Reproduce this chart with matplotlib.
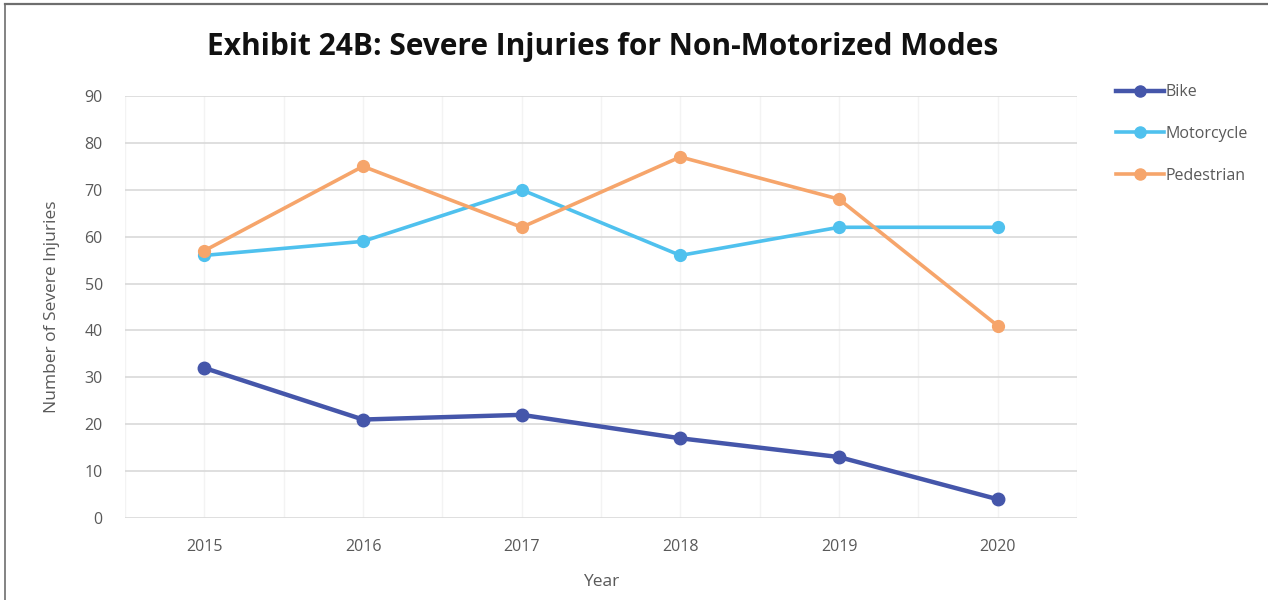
import numpy as np
import matplotlib
matplotlib.use("Agg")
from matplotlib import pyplot as plt
from matplotlib.lines import Line2D

# data
years = ["2015", "2016", "2017", "2018", "2019", "2020"]
bike = [32, 21, 22, 17, 13, 4]
motorcycle = [56, 59, 70, 56, 62, 62]
pedestrian = [57, 75, 62, 77, 68, 41]
yticks = [0, 10, 20, 30, 40, 50, 60, 70, 80, 90]

plt.rcParams["font.family"] = ["Open Sans", "DejaVu Sans"]

fig = plt.figure(figsize=(12.68, 6), dpi=100)
ax = fig.add_axes([125/1268, 1-518/600, (1077-125)/1268, (518-96)/600])

x = np.arange(len(years))
ax.plot(x, motorcycle, color="#4FC1EE", lw=2.6, marker="o", ms=8.5, label="Motorcycle", zorder=3)
ax.plot(x, pedestrian, color="#F6A56B", lw=2.6, marker="o", ms=8.5, label="Pedestrian", zorder=3)
ax.plot(x, bike, color="#4556AA", lw=3.2, marker="o", ms=9, label="Bike", zorder=4)

ax.set_xlim(-0.5, len(years)-0.5)
ax.set_ylim(0, 90)
ax.set_xticks(x)
ax.set_xticklabels(years)
ax.set_yticks(yticks)
ax.set_xticks(np.arange(-0.5, len(years), 1.0), minor=True)
ax.tick_params(which="both", length=0, colors="#595959", labelsize=11.5)
ax.tick_params(axis="x", pad=15)
ax.tick_params(axis="y", pad=16)

# gridlines
ax.grid(axis="y", color="#D9D9D9", lw=1.2)
ax.grid(axis="x", which="major", color="#F3F3F3", lw=1)
ax.grid(axis="x", which="minor", color="#F3F3F3", lw=1)
ax.set_axisbelow(True)
for s in ax.spines.values():
    s.set_visible(False)

ax.set_ylabel("Number of Severe Injuries", color="#595959", fontsize=12.5, labelpad=18)
ax.set_xlabel("Year", color="#595959", fontsize=12.5, labelpad=14)

fig.text(603/1268, 1-47/600, "Exhibit 24B: Severe Injuries for Non-Motorized Modes",
         ha="center", va="center", fontsize=21.5, fontweight="bold", color="#111111")

# legend outside plot on the right
handles = [
    Line2D([], [], color="#4556AA", lw=3.2, marker="o", ms=8),
    Line2D([], [], color="#4FC1EE", lw=2.6, marker="o", ms=8),
    Line2D([], [], color="#F6A56B", lw=2.6, marker="o", ms=8),
]
fig.legend(handles, ["Bike", "Motorcycle", "Pedestrian"], loc="upper left",
           bbox_to_anchor=(1110/1268, 1-78/600), frameon=False, fontsize=11.5,
           labelcolor="#595959", handlelength=3.0, handletextpad=0.1,
           labelspacing=1.6, borderaxespad=0)

# border on top and left
fig.add_artist(Line2D([5/1268, 1], [1-4/600, 1-4/600], color="#6E6E6E", lw=1.6))
fig.add_artist(Line2D([5/1268, 5/1268], [0, 1-4/600], color="#6E6E6E", lw=1.2))

fig.savefig("out.png", dpi=100)
